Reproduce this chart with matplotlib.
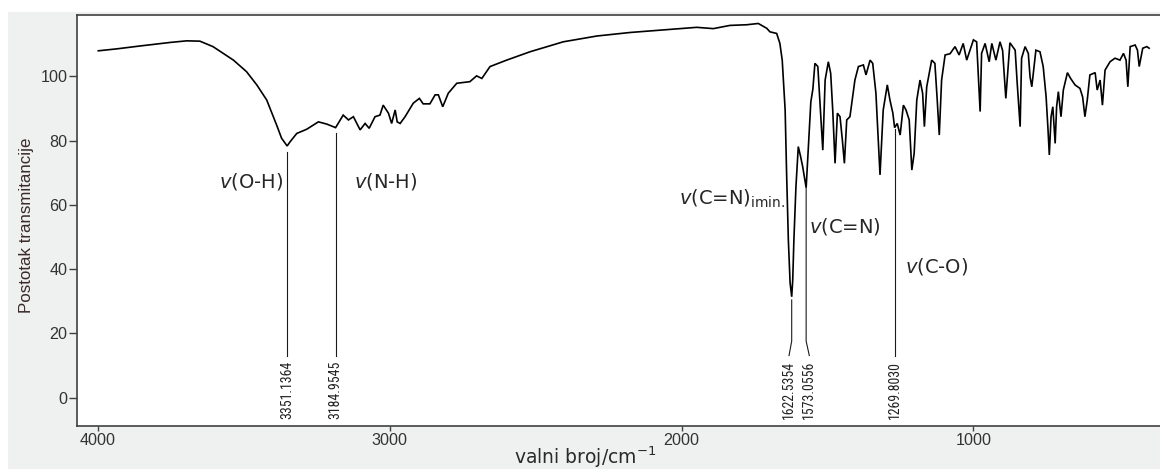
import matplotlib
matplotlib.use("Agg")
import matplotlib.pyplot as plt
from matplotlib.patches import Rectangle
from matplotlib import font_manager

# ---------------- data ----------------
wavenumber = [3998, 3935, 3855, 3752, 3695, 3650, 3605, 3535, 3490, 3455, 3421, 3387,
              3370, 3351, 3341, 3318, 3284, 3244, 3215, 3185, 3159, 3141, 3124, 3101,
              3084, 3070, 3050, 3033, 3022, 3004, 2993, 2981, 2974, 2964, 2947, 2919,
              2898, 2885, 2862, 2844, 2833, 2818, 2799, 2770, 2725, 2702, 2684, 2656,
              2599, 2519, 2405, 2290, 2176, 2062, 1948, 1891, 1834, 1777, 1737, 1708,
              1697, 1674, 1663, 1655, 1651, 1645, 1640, 1634, 1628, 1622.5, 1619, 1615,
              1608, 1600, 1592, 1585, 1579, 1573, 1569, 1564, 1557, 1550, 1543, 1533,
              1525, 1516, 1508, 1497, 1489, 1482, 1474, 1466, 1457, 1449, 1442, 1434,
              1423, 1406, 1394, 1377, 1368, 1354, 1345, 1334, 1320, 1309, 1295, 1286,
              1276, 1270, 1261, 1251, 1240, 1231, 1220, 1211, 1203, 1194, 1183, 1174,
              1168, 1160, 1143, 1132, 1124, 1117, 1109, 1097, 1080, 1063, 1049, 1035,
              1023, 1000, 989, 977, 972, 960, 946, 937, 923, 909, 900, 889,
              875, 857, 850, 840, 835, 823, 812, 806, 800, 786, 772, 761,
              751, 745, 740, 734, 728, 720, 715, 709, 700, 692, 678, 667,
              652, 635, 626, 618, 610, 601, 583, 576, 566, 558, 549, 532,
              515, 498, 486, 477, 471, 463, 446, 438, 432, 420, 406, 398]
transmittance = [107.9, 108.5, 109.4, 110.5, 111.0, 110.9, 109.2, 105.0, 101.4, 97.3, 92.6, 84.8,
                 80.7, 78.3, 79.6, 82.2, 83.5, 85.8, 85.1, 84.0, 87.9, 86.4, 87.4, 83.3,
                 85.3, 83.8, 87.4, 87.9, 91.0, 88.5, 85.3, 89.5, 85.8, 85.3, 87.4, 91.6,
                 93.1, 91.4, 91.4, 94.2, 94.2, 90.5, 94.7, 97.8, 98.3, 100.1, 99.3, 103.0,
                 105.0, 107.6, 110.7, 112.5, 113.6, 114.4, 115.2, 114.8, 115.8, 116.0, 116.4, 114.9,
                 113.8, 113.3, 110.2, 105.0, 98.8, 89.5, 69.8, 49.1, 35.7, 31.4, 36.6, 49.1,
                 65.6, 78.1, 75.0, 71.9, 68.7, 65.3, 71.9, 80.0, 92.0, 96.0, 104.0, 103.0,
                 90.5, 77.0, 98.8, 104.5, 100.9, 89.5, 72.9, 88.5, 87.4, 80.2, 72.9, 86.4,
                 87.4, 98.8, 103.0, 103.5, 100.4, 105.0, 104.0, 94.7, 69.3, 89.5, 97.3, 92.6,
                 88.5, 84.0, 85.3, 81.7, 91.0, 89.5, 86.4, 70.8, 76.0, 92.6, 98.8, 94.7,
                 84.3, 96.7, 105.0, 104.0, 92.6, 81.7, 98.8, 106.6, 107.0, 109.2, 106.6, 110.2,
                 105.0, 111.3, 110.7, 89.0, 107.1, 110.2, 104.5, 110.2, 105.0, 110.7, 108.0, 93.1,
                 110.4, 108.1, 97.8, 84.3, 105.6, 109.2, 107.1, 99.8, 96.7, 108.1, 107.6, 103.0,
                 93.6, 84.3, 75.5, 87.4, 90.5, 79.1, 90.5, 95.2, 87.4, 95.7, 101.1, 99.3,
                 97.3, 96.2, 93.6, 87.4, 92.6, 100.4, 101.1, 95.7, 98.8, 91.0, 101.9, 104.5,
                 105.6, 105.0, 107.1, 105.0, 96.7, 109.2, 109.7, 108.1, 103.0, 108.7, 109.2, 108.7]

peak_positions = [3351.1364, 3184.9545, 1622.5354, 1573.0556, 1269.8030]
peak_labels = ["3351.1364", "3184.9545", "1622.5354", "1573.0556", "1269.8030"]
peak_line_top = [76.4, 82.3, 30.4, 65.2, 83.5]
peak_label_x = [3351.1364, 3184.9545, 1631.7, 1562.2, 1269.8030]

band_labels = [r"$\it{v}$(O-H)", r"$\it{v}$(N-H)", r"$\it{v}$(C=N)$_{\rm imin.}$",
               r"$\it{v}$(C=N)", r"$\it{v}$(C-O)"]
band_x = [3365, 3121, 2007, 1563, 1234]
band_y = [67.4, 67.2, 62.0, 53.4, 40.7]
band_ha = ["right", "left", "left", "left", "left"]

xticks = [1000, 2000, 3000, 4000]
yticks = [0, 20, 40, 60, 80, 100]

# ---------------- fonts ----------------
available = {f.name for f in font_manager.fontManager.ttflist}
narrow_family, narrow_size = "Liberation Sans", 8.6
for cand in ["Liberation Sans Narrow", "Arial Narrow", "Roboto Condensed",
             "Open Sans Condensed", "DejaVu Sans Condensed"]:
    if cand in available:
        narrow_family, narrow_size = cand, 10.0
        break

# ---------------- figure ----------------
plt.rcParams["mathtext.fontset"] = "dejavusans"
W, H = 1160, 469
fig = plt.figure(figsize=(W / 100, H / 100), dpi=100, facecolor="white")
bg = Rectangle((8 / W, 0), 1 - 8 / W, 1 - 12 / H, transform=fig.transFigure,
               facecolor="#eff0f0", edgecolor="none", zorder=-10)
fig.add_artist(bg)

left_px, right_px, top_px, bottom_px = 77, 1165, 14.7, 425.7
ax = fig.add_axes([left_px / W, 1 - bottom_px / H, (right_px - left_px) / W,
                   (bottom_px - top_px) / H])
ax.set_zorder(5)
ax.set_facecolor("white")
ax.set_xlim(4070.9, 343.7)
ax.set_ylim(-8.71, 119.13)

ax.plot(wavenumber, transmittance, color="black", lw=1.2, solid_joinstyle="miter")

# peak marker lines and labels
bend_y = 17.6
line_bottom = 13.1
for pos, lab, top, lx in zip(peak_positions, peak_labels, peak_line_top, peak_label_x):
    if abs(lx - pos) > 1:
        ax.plot([pos, pos, lx], [top, bend_y, line_bottom], color="#1a1a1a", lw=0.8)
    else:
        ax.plot([pos, pos], [top, line_bottom], color="#1a1a1a", lw=0.8)
    ax.text(lx, 11.4, lab, rotation=90, ha="center", va="top", fontsize=narrow_size,
            family=narrow_family, color="#222222")

for txt, bx, by, ha in zip(band_labels, band_x, band_y, band_ha):
    ax.text(bx, by, txt, ha=ha, va="center", fontsize=14, family="DejaVu Sans",
            color="#262626")

ax.set_xticks(xticks)
ax.set_yticks(yticks)
ax.tick_params(axis="both", direction="out", colors="#404040", width=1.0,
               labelcolor="#333333")
ax.tick_params(axis="y", length=6, pad=1)
ax.tick_params(axis="x", length=3.5, pad=1.5)
for lbl in ax.get_xticklabels() + ax.get_yticklabels():
    lbl.set_family("Liberation Sans")
    lbl.set_fontsize(11.6)

for side in ["left", "bottom", "top"]:
    ax.spines[side].set_color("#404040")
    ax.spines[side].set_linewidth(1.2)
ax.spines["right"].set_visible(False)

ax.set_ylabel("Postotak transmitancije", family="Liberation Sans", fontsize=12.2,
              color="#3a2a2a", va="center")
ax.yaxis.set_label_coords((26.5 - left_px) / (right_px - left_px),
                          (bottom_px - 225.5) / (bottom_px - top_px))
ax.set_xlabel(r"valni broj/cm$^{-1}$", family="DejaVu Sans", fontsize=13.5,
              color="#2a2a2a", va="center")
ax.xaxis.set_label_coords((585.5 - left_px) / (right_px - left_px),
                          -(457 - bottom_px) / (bottom_px - top_px))

fig.savefig("out.png", dpi=100)
